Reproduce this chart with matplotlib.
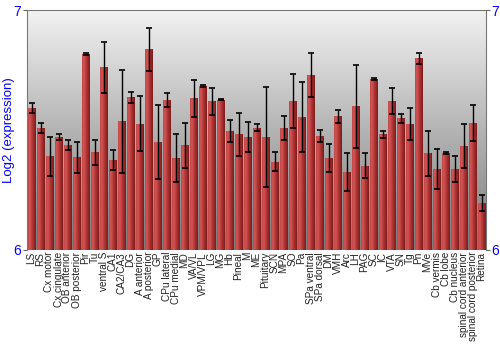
import numpy as np
import matplotlib
matplotlib.use("Agg")
import matplotlib.pyplot as plt
from matplotlib.colors import LinearSegmentedColormap

plt.rcParams["font.family"] = ["Liberation Sans", "DejaVu Sans"]

regions = [
    "LS", "RS", "Cx motor", "Cx cingulate", "OB anterior", "OB posterior",
    "Pir", "Tu", "ventral S", "CA1", "CA2/CA3", "DG", "A anterior",
    "A posterior", "GP", "CPu lateral", "CPu medial", "MD", "VA/VL",
    "VPM/VPL", "LG", "MG", "Hb", "Pineal", "M", "ME", "Pituitary", "SCN",
    "MPA", "SO", "Pa", "SPa ventral", "SPa dorsal", "DM", "VMH", "Arc", "LH",
    "PAG", "SC", "IC", "VTA", "SN", "Tg", "Pn", "MVe", "Cb vermis", "Cb lobe",
    "Cb nucleus", "spinal cord anterior", "spinal cord posterior", "Retina",
]
expression = [
    6.590, 6.508, 6.390, 6.471, 6.437, 6.386,
    6.818, 6.407, 6.762, 6.376, 6.537, 6.637, 6.526,
    6.836, 6.450, 6.626, 6.383, 6.436, 6.633,
    6.683, 6.619, 6.626, 6.495, 6.482, 6.472, 6.510, 6.471, 6.368,
    6.508, 6.621, 6.554, 6.730, 6.475, 6.383, 6.558, 6.325, 6.599,
    6.351, 6.712, 6.483, 6.621, 6.549, 6.524, 6.799, 6.404, 6.337, 6.404,
    6.337, 6.433, 6.529, 6.196,
]
error = [
    0.021, 0.020, 0.080, 0.014, 0.022, 0.065,
    0.003, 0.052, 0.106, 0.041, 0.215, 0.023, 0.115,
    0.090, 0.154, 0.030, 0.100, 0.095, 0.077,
    0.003, 0.055, 0.002, 0.045, 0.089, 0.062, 0.016, 0.210, 0.040,
    0.050, 0.112, 0.146, 0.093, 0.024, 0.060, 0.027, 0.079, 0.174,
    0.053, 0.004, 0.015, 0.053, 0.018, 0.067, 0.022, 0.094, 0.082, 0.003,
    0.055, 0.093, 0.074, 0.035,
]

fig = plt.figure(figsize=(5, 3.5), dpi=100)
ax = fig.add_axes([0.054, 0.286, 0.918, 0.685])

x = np.arange(len(regions))
ymin, ymax = 6, 7
ax.set_xlim(-0.5, len(regions) - 0.5)
ax.set_ylim(ymin, ymax)

# gray background gradient (light at top, dark at bottom)
bg = LinearSegmentedColormap.from_list("bg", ["#7a7a7a", "#b4b4b4", "#f2f2f2"])
grad = np.linspace(0, 1, 256).reshape(-1, 1)
ax.imshow(grad, aspect="auto", cmap=bg, origin="lower",
          extent=[-0.5, len(regions) - 0.5, ymin, ymax], zorder=0)

# red bars with horizontal shading
bar_cmap = LinearSegmentedColormap.from_list(
    "barshade", ["#c24848", "#d25656", "#b83a3a", "#9a2a2a", "#7a1c1c"])
hgrad = np.linspace(0, 1, 64).reshape(1, -1)
bars = ax.bar(x, np.array(expression) - ymin, bottom=ymin, width=0.88,
              color="#b83a3a", edgecolor="none", zorder=1)
for b in bars:
    im = ax.imshow(hgrad, aspect="auto", cmap=bar_cmap,
                   extent=[b.get_x(), b.get_x() + b.get_width(), ymin, ymin + b.get_height()],
                   zorder=2)
    im.set_clip_path(b)

ax.errorbar(x, expression, yerr=error, fmt="none", ecolor="black",
            elinewidth=1, capsize=2, capthick=1.2, zorder=3)

ax.set_yticks([6, 7])
ax.set_yticklabels(["6", "7"], color="blue", fontsize=10)
ax.tick_params(axis="y", right=True, labelright=True, length=3, color="#666666", pad=1)
ax.set_ylabel("Log2 (expression)", color="blue", fontsize=9.5)
ax.yaxis.set_label_coords(-0.027, 0.5)

ax.set_xticks(x)
ax.set_xticklabels(regions, rotation=90, fontsize=7.2, color="#222222")
ax.tick_params(axis="x", length=0, pad=1.5)

for side in ["top", "left", "right"]:
    ax.spines[side].set_color("#777777")
ax.spines["bottom"].set_visible(False)

fig.savefig("out.png", dpi=100)
